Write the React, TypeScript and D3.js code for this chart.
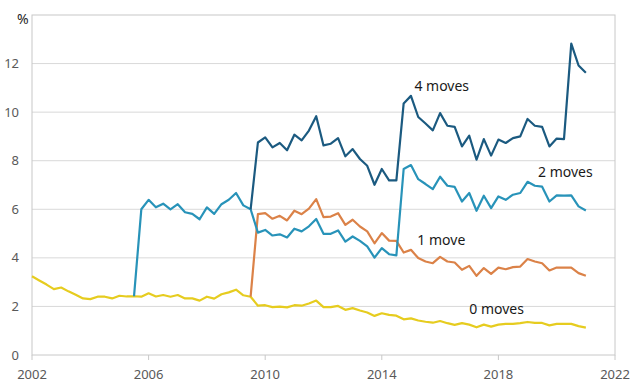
import React from "react";
import * as d3 from "d3";

// quarterly observations, 2002 Q1 .. 2021 Q1
const quarters: number[] = d3.range(77).map((i) => 2002 + i * 0.25);

const zeroMoves: (number | null)[] = [
	3.24, 3.07, 2.9, 2.71, 2.78, 2.62, 2.48, 2.33, 2.3, 2.4, 2.4, 2.33, 2.44, 2.41, 2.42, 2.4,
	2.54, 2.41, 2.47, 2.4, 2.47, 2.33, 2.33, 2.24, 2.4, 2.32, 2.5, 2.58, 2.69, 2.46, 2.4, 2.03,
	2.05, 1.97, 1.99, 1.96, 2.05, 2.03, 2.12, 2.24, 1.97, 1.97, 2.02, 1.86, 1.93, 1.83, 1.75, 1.61,
	1.72, 1.65, 1.62, 1.47, 1.51, 1.42, 1.37, 1.33, 1.4, 1.31, 1.24, 1.31, 1.25, 1.14, 1.25, 1.17,
	1.25, 1.28, 1.28, 1.31, 1.36, 1.32, 1.32, 1.22, 1.28, 1.28, 1.28, 1.19, 1.13,
];

const oneMove: (number | null)[] = [
	...Array(30).fill(null),
	2.4, 5.8, 5.84, 5.61, 5.73, 5.54, 5.94, 5.8, 6.03, 6.42, 5.68, 5.7, 5.84, 5.36, 5.57, 5.29,
	5.09, 4.6, 5.02, 4.71, 4.7, 4.22, 4.33, 3.99, 3.85, 3.78, 4.04, 3.85, 3.81, 3.51, 3.67, 3.26,
	3.58, 3.34, 3.6, 3.53, 3.62, 3.64, 3.95, 3.85, 3.78, 3.48, 3.6, 3.6, 3.6, 3.37, 3.26,
];

const twoMoves: (number | null)[] = [
	...Array(14).fill(null),
	2.42, 6.0, 6.39, 6.08, 6.23, 6.0, 6.21, 5.88, 5.81, 5.59, 6.08, 5.81, 6.21, 6.39, 6.67, 6.16,
	6.0, 5.04, 5.15, 4.92, 4.97, 4.84, 5.2, 5.09, 5.3, 5.6, 4.99, 4.99, 5.13, 4.67, 4.88, 4.7,
	4.47, 4.01, 4.4, 4.15, 4.1, 7.66, 7.82, 7.24, 7.04, 6.83, 7.34, 6.97, 6.92, 6.32, 6.67, 5.94,
	6.56, 6.05, 6.53, 6.39, 6.6, 6.67, 7.13, 6.97, 6.93, 6.32, 6.57, 6.56, 6.57, 6.12, 5.95,
];

const fourMoves: (number | null)[] = [
	...Array(30).fill(null),
	6.0, 8.75, 8.96, 8.55, 8.73, 8.43, 9.07, 8.84, 9.24, 9.83, 8.63, 8.7, 8.93, 8.18, 8.48, 8.07,
	7.79, 7.01, 7.66, 7.19, 7.19, 10.36, 10.67, 9.8, 9.53, 9.25, 9.96, 9.44, 9.39, 8.59, 9.03, 8.04,
	8.89, 8.21, 8.87, 8.73, 8.93, 9.0, 9.72, 9.44, 9.39, 8.59, 8.91, 8.89, 12.82, 11.92, 11.62,
];

const yTicks = [0, 2, 4, 6, 8, 10, 12];
const xTicks = [2002, 2006, 2010, 2014, 2018, 2022];

const series = [
	{ name: "0 moves", values: zeroMoves, color: "#e6cc1f", label: [2017.0, 1.69] },
	{ name: "1 move", values: oneMove, color: "#db8248", label: [2015.22, 4.53] },
	{ name: "2 moves", values: twoMoves, color: "#2893b9", label: [2019.36, 7.33] },
	{ name: "4 moves", values: fourMoves, color: "#1b5a80", label: [2015.12, 10.87] },
];

const W = 639;
const H = 384;
const margin = { top: 15, right: 24, bottom: 29, left: 32 };

export default function App() {
	const x = d3
		.scaleLinear()
		.domain([2002, 2022])
		.range([margin.left, W - margin.right]);
	const y = d3
		.scaleLinear()
		.domain([0, 14])
		.range([H - margin.bottom, margin.top]);

	const line = d3
		.line<number | null>()
		.defined((d) => d !== null)
		.x((_, i) => x(quarters[i]))
		.y((d) => y(d as number));

	const font = "'Noto Sans', 'Open Sans', sans-serif";

	return (
		<svg
			width={W}
			height={H}
			style={{ position: "absolute", left: 0, top: 0, background: "#fff" }}
			fontFamily={font}
		>
			{/* gridlines */}
			{yTicks.slice(1).map((t) => (
				<line
					key={t}
					x1={x(2002)}
					x2={x(2022)}
					y1={y(t)}
					y2={y(t)}
					stroke="#d9d9d9"
					strokeWidth={1}
				/>
			))}
			{/* plot frame */}
			<rect
				x={x(2002)}
				y={y(14)}
				width={x(2022) - x(2002)}
				height={y(0) - y(14)}
				fill="none"
				stroke="#c8c8c8"
				strokeWidth={1}
			/>
			{/* x ticks */}
			{xTicks.map((t) => (
				<line
					key={t}
					x1={x(t)}
					x2={x(t)}
					y1={y(0)}
					y2={y(0) + 5}
					stroke="#c8c8c8"
				/>
			))}
			{yTicks.map((t) => (
				<text
					key={t}
					x={19}
					y={y(t)}
					dy="0.35em"
					textAnchor="end"
					fontSize={13}
					fill="#595959"
				>
					{t}
				</text>
			))}
			<text x={17} y={24} fontSize={14} fill="#262626">
				%
			</text>
			{xTicks.map((t) => (
				<text
					key={t}
					x={x(t)}
					y={379}
					textAnchor="middle"
					fontSize={13}
					fill="#595959"
				>
					{t}
				</text>
			))}
			{series.map((s) => (
				<path
					key={s.name}
					d={line(s.values) || ""}
					fill="none"
					stroke={s.color}
					strokeWidth={2.2}
					strokeLinejoin="round"
				/>
			))}
			{series.map((s) => (
				<text
					key={s.name + "-label"}
					x={x(s.label[0])}
					y={y(s.label[1])}
					fontSize={14}
					fill="#1a1a1a"
				>
					{s.name}
				</text>
			))}
		</svg>
	);
}
